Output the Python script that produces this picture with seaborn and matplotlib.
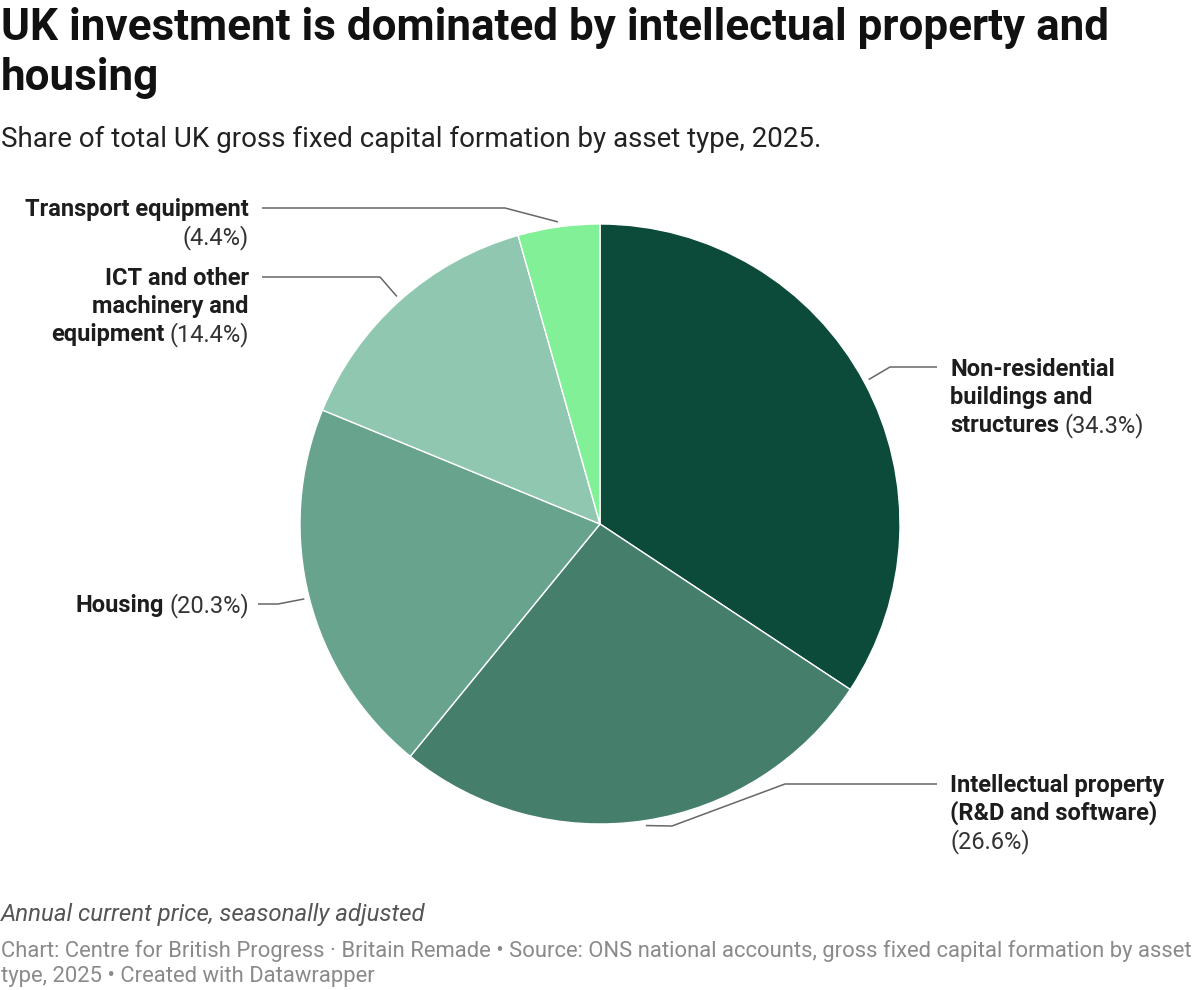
import matplotlib
matplotlib.use("Agg")
import matplotlib.pyplot as plt
import seaborn as sns
import numpy as np

# data
categories = ["Non-residential buildings and structures",
              "Intellectual property (R&D and software)",
              "Housing",
              "ICT and other machinery and equipment",
              "Transport equipment"]
shares = [34.3, 26.6, 20.3, 14.4, 4.4]
colors = ["#0c4a3a", "#457e6b", "#68a38e", "#8fc7b1", "#82f096"]

# wrapped label lines, and whether the percentage goes on its own line
label_lines = [["Non-residential", "buildings and", "structures"],
               ["Intellectual property", "(R&D and software)"],
               ["Housing"],
               ["ICT and other", "machinery and", "equipment"],
               ["Transport equipment"]]
pct_newline = [False, True, False, False, True]

title_lines = ["UK investment is dominated by intellectual property and", "housing"]
subtitle = "Share of total UK gross fixed capital formation by asset type, 2025."
note = "Annual current price, seasonally adjusted"
credit_lines = ["Chart: Centre for British Progress \u00b7 Britain Remade \u2022 Source: ONS national accounts, gross fixed capital formation by asset",
                "type, 2025 \u2022 Created with Datawrapper"]

sns.set_theme(style="white")
plt.rcParams["font.family"] = ["Roboto", "DejaVu Sans"]

W, H = 1200, 990
fig = plt.figure(figsize=(W / 100, H / 100), dpi=100)
ax = fig.add_axes([0, 0, 1, 1])

cx, cy, R = 600, 524, 300
wedges, _ = ax.pie(shares, colors=colors, startangle=-90, counterclock=True,
                   center=(cx, cy), radius=R,
                   wedgeprops=dict(edgecolor="white", linewidth=1))
ax.set_xlim(0, W)
ax.set_ylim(H, 0)
ax.set_aspect("auto")
ax.axis("off")

# title block
for k, line in enumerate(title_lines):
    ax.text(1, 40 + k * 50, line, fontsize=31.7, fontweight="bold", color="#111111",
            va="baseline", ha="left")
ax.text(1, 147, subtitle, fontsize=20, color="#222222", va="baseline", ha="left")
ax.text(1, 921, note, fontsize=17.3, style="italic", color="#555555", va="baseline")
for k, line in enumerate(credit_lines):
    ax.text(1, 957 + k * 25, line, fontsize=15.8, color="#8a8a8a", va="baseline")

# leader line paths (after the start point on the pie edge) and label anchors
layout = [
    dict(side="left", path=[(890, 367), (937, 367)], x=950, y=376),
    dict(side="left", path=[(672, 826), (785, 784), (937, 784)], x=950, y=792),
    dict(side="right", path=[(278, 604), (258, 604)], x=249, y=612),
    dict(side="right", path=[(380, 277), (262, 277)], x=249, y=285),
    dict(side="right", path=[(505, 208), (262, 208)], x=249, y=216),
]

fig.canvas.draw()
renderer = fig.canvas.get_renderer()

cum = np.cumsum([0] + shares)
total = sum(shares)
lh = 28
fs = 17
for i, (val, lines, nl, lay) in enumerate(zip(shares, label_lines, pct_newline, layout)):
    mid = -90 + 360 * (cum[i] + val / 2) / total
    a = np.deg2rad(mid)
    sx, sy = cx + (R + 5) * np.cos(a), cy + (R + 5) * np.sin(a)
    pts = [(sx, sy)] + lay["path"]
    ax.plot([p[0] for p in pts], [p[1] for p in pts], color="#666666", lw=1.1,
            solid_capstyle="butt")

    pct = f"({val}%)"
    rows = [(l, "") for l in lines]
    if nl:
        rows.append(("", pct))
    else:
        rows[-1] = (rows[-1][0], pct)
    for j, (b, r) in enumerate(rows):
        y = lay["y"] + j * lh
        x = lay["x"]
        if lay["side"] == "left":
            if b:
                t = ax.text(x, y, b, fontsize=fs, fontweight="bold", color="#1d1d1d",
                            ha="left", va="baseline")
                x += t.get_window_extent(renderer).width + 5
            if r:
                ax.text(x, y, r, fontsize=fs, color="#333333", ha="left", va="baseline")
        else:
            if r:
                t = ax.text(x, y, r, fontsize=fs, color="#333333", ha="right", va="baseline")
                x -= t.get_window_extent(renderer).width + 5
            if b:
                ax.text(x, y, b, fontsize=fs, fontweight="bold", color="#1d1d1d",
                        ha="right", va="baseline")

fig.savefig("out.png", dpi=100, facecolor="white")
